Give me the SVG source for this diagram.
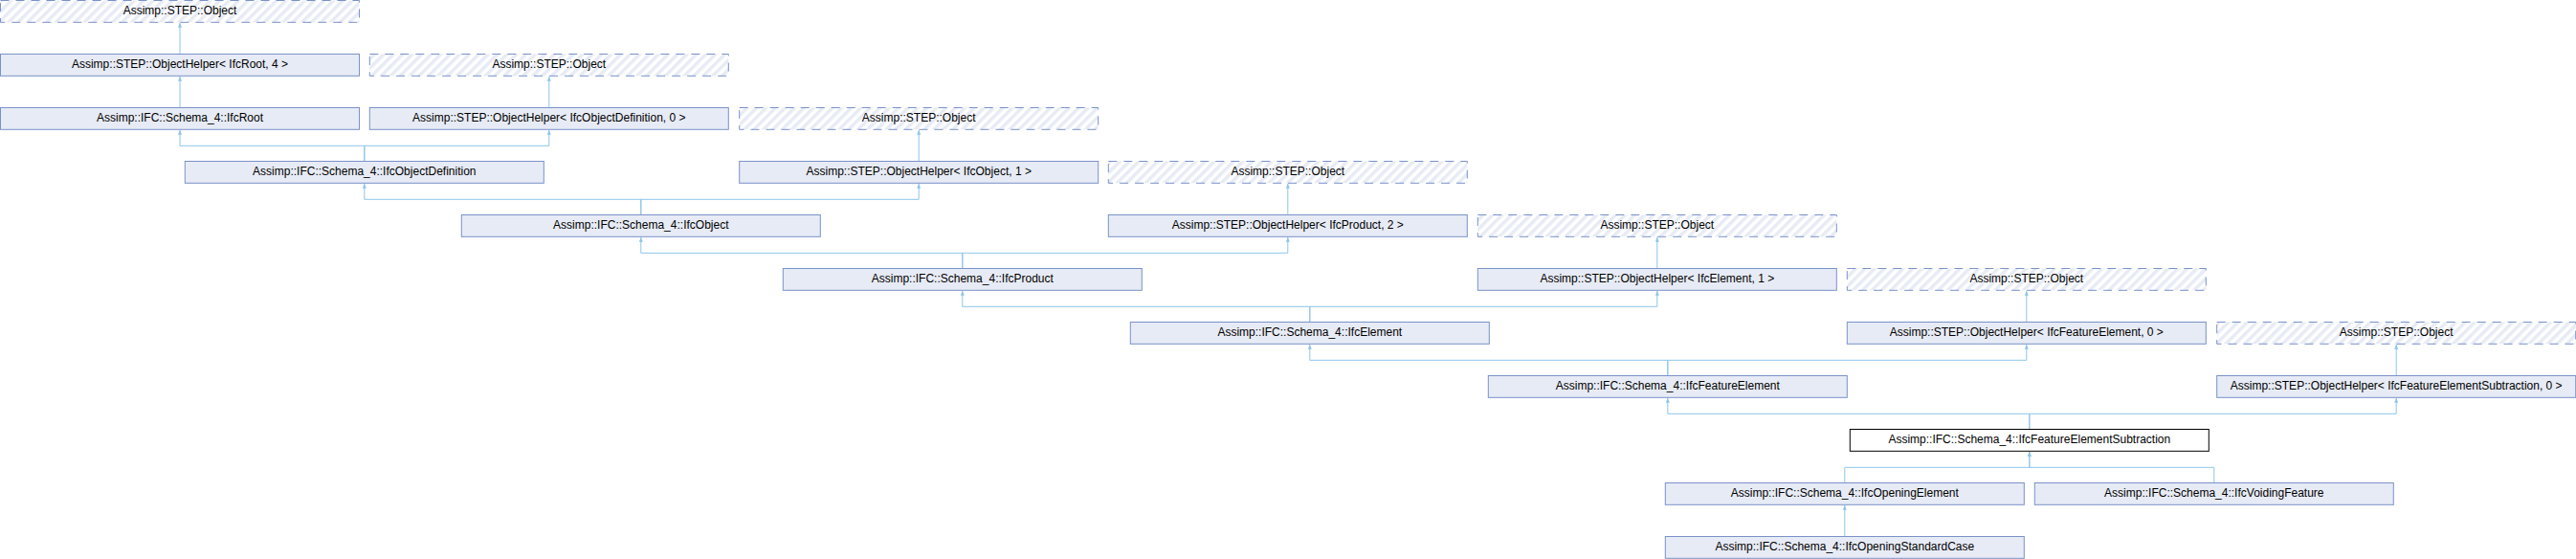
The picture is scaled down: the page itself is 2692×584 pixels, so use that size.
<svg xmlns="http://www.w3.org/2000/svg" width="2692" height="584" viewBox="0 0 2692 584" xml:space="preserve">
<style>
.n{fill:#E7EBF5;stroke:#7A92C9;stroke-width:1}
.d{fill:url(#hatch);stroke:#7A92C9;stroke-width:1;stroke-dasharray:9,7}
.c{fill:#FFFFFF;stroke:#000000;stroke-width:1}
text{font-family:"Liberation Sans",Arial,Helvetica,sans-serif;font-size:12px;fill:#000000;text-anchor:middle}
.e{fill:none;stroke:#8EC5E8;stroke-width:1;marker-end:url(#arr)}
</style>
<defs>
<pattern id="hatch" patternUnits="userSpaceOnUse" width="7" height="7" patternTransform="rotate(45)"><rect width="7" height="7" fill="#FFFFFF"/><rect width="3.5" height="7" fill="#E7EBF5"/></pattern>
<marker id="arr" viewBox="0 0 10 10" refX="10" refY="5" markerUnits="userSpaceOnUse" markerWidth="5" markerHeight="5" orient="auto"><path d="M0,1 L10,5 L0,9 Z" fill="#8EC5E8"/></marker>
</defs>
<rect width="2692" height="584" fill="#FFFFFF"/>
<g id="edges">
<path class="e" d="M188 56.5V23.8"/>
<path class="e" d="M188 112.5V79.8"/>
<path class="e" d="M573.8 112.5V79.8"/>
<path class="e" d="M380.8 168.5V152.3H188V135.8"/>
<path class="e" d="M380.8 168.5V152.3H573.8V135.8"/>
<path class="e" d="M960.2 168.5V135.8"/>
<path class="e" d="M669.8 224.5V208.3H380.8V191.8"/>
<path class="e" d="M669.8 224.5V208.3H960.2V191.8"/>
<path class="e" d="M1345.8 224.5V191.8"/>
<path class="e" d="M1005.8 280.5V264.3H669.8V247.8"/>
<path class="e" d="M1005.8 280.5V264.3H1345.8V247.8"/>
<path class="e" d="M1731.8 280.5V247.8"/>
<path class="e" d="M1368.8 336.5V320.3H1005.8V303.8"/>
<path class="e" d="M1368.8 336.5V320.3H1731.8V303.8"/>
<path class="e" d="M2117.8 336.5V303.8"/>
<path class="e" d="M1742.8 392.5V376.3H1368.8V359.8"/>
<path class="e" d="M1742.8 392.5V376.3H2117.8V359.8"/>
<path class="e" d="M2504.2 392.5V359.8"/>
<path class="e" d="M2120.8 448.5V432.3H1742.8V415.8"/>
<path class="e" d="M2120.8 448.5V432.3H2504.2V415.8"/>
<path class="e" d="M1927.8 504.5V488.3H2120.8V471.8"/>
<path class="e" d="M2313.8 504.5V488.3H2120.8V471.8"/>
<path class="e" d="M1927.8 560.5V527.8"/>
</g>
<g id="obj0"><rect class="d" x="0.5" y="0.5" width="375" height="22.8"/><text x="188" y="15.3">Assimp::STEP::Object</text></g>
<g id="ohRoot"><rect class="n" x="0.5" y="56.5" width="375" height="22.8"/><text x="188" y="71.3">Assimp::STEP::ObjectHelper&lt;  IfcRoot,  4  &gt;</text></g>
<g id="obj1"><rect class="d" x="386.3" y="56.5" width="375" height="22.8"/><text x="573.8" y="71.3">Assimp::STEP::Object</text></g>
<g id="ifcRoot"><rect class="n" x="0.5" y="112.5" width="375" height="22.8"/><text x="188" y="127.3">Assimp::IFC::Schema_4::IfcRoot</text></g>
<g id="ohObjDef"><rect class="n" x="386.3" y="112.5" width="375" height="22.8"/><text x="573.8" y="127.3">Assimp::STEP::ObjectHelper&lt;  IfcObjectDefinition,  0  &gt;</text></g>
<g id="obj2"><rect class="d" x="772.7" y="112.5" width="375" height="22.8"/><text x="960.2" y="127.3">Assimp::STEP::Object</text></g>
<g id="ifcObjDef"><rect class="n" x="193.3" y="168.5" width="375" height="22.8"/><text x="380.8" y="183.3">Assimp::IFC::Schema_4::IfcObjectDefinition</text></g>
<g id="ohObject"><rect class="n" x="772.7" y="168.5" width="375" height="22.8"/><text x="960.2" y="183.3">Assimp::STEP::ObjectHelper&lt;  IfcObject,  1  &gt;</text></g>
<g id="obj3"><rect class="d" x="1158.3" y="168.5" width="375" height="22.8"/><text x="1345.8" y="183.3">Assimp::STEP::Object</text></g>
<g id="ifcObject"><rect class="n" x="482.3" y="224.5" width="375" height="22.8"/><text x="669.8" y="239.3">Assimp::IFC::Schema_4::IfcObject</text></g>
<g id="ohProduct"><rect class="n" x="1158.3" y="224.5" width="375" height="22.8"/><text x="1345.8" y="239.3">Assimp::STEP::ObjectHelper&lt;  IfcProduct,  2  &gt;</text></g>
<g id="obj4"><rect class="d" x="1544.3" y="224.5" width="375" height="22.8"/><text x="1731.8" y="239.3">Assimp::STEP::Object</text></g>
<g id="ifcProduct"><rect class="n" x="818.3" y="280.5" width="375" height="22.8"/><text x="1005.8" y="295.3">Assimp::IFC::Schema_4::IfcProduct</text></g>
<g id="ohElement"><rect class="n" x="1544.3" y="280.5" width="375" height="22.8"/><text x="1731.8" y="295.3">Assimp::STEP::ObjectHelper&lt;  IfcElement,  1  &gt;</text></g>
<g id="obj5"><rect class="d" x="1930.3" y="280.5" width="375" height="22.8"/><text x="2117.8" y="295.3">Assimp::STEP::Object</text></g>
<g id="ifcElement"><rect class="n" x="1181.3" y="336.5" width="375" height="22.8"/><text x="1368.8" y="351.3">Assimp::IFC::Schema_4::IfcElement</text></g>
<g id="ohFeatureElement"><rect class="n" x="1930.3" y="336.5" width="375" height="22.8"/><text x="2117.8" y="351.3">Assimp::STEP::ObjectHelper&lt;  IfcFeatureElement,  0  &gt;</text></g>
<g id="obj6"><rect class="d" x="2316.7" y="336.5" width="375" height="22.8"/><text x="2504.2" y="351.3">Assimp::STEP::Object</text></g>
<g id="ifcFeatureElement"><rect class="n" x="1555.3" y="392.5" width="375" height="22.8"/><text x="1742.8" y="407.3">Assimp::IFC::Schema_4::IfcFeatureElement</text></g>
<g id="ohFES"><rect class="n" x="2316.7" y="392.5" width="375" height="22.8"/><text x="2504.2" y="407.3">Assimp::STEP::ObjectHelper&lt;  IfcFeatureElementSubtraction,  0  &gt;</text></g>
<g id="ifcFES"><rect class="c" x="1933.3" y="448.5" width="375" height="22.8"/><text x="2120.8" y="463.3">Assimp::IFC::Schema_4::IfcFeatureElementSubtraction</text></g>
<g id="ifcOpening"><rect class="n" x="1740.3" y="504.5" width="375" height="22.8"/><text x="1927.8" y="519.3">Assimp::IFC::Schema_4::IfcOpeningElement</text></g>
<g id="ifcVoiding"><rect class="n" x="2126.3" y="504.5" width="375" height="22.8"/><text x="2313.8" y="519.3">Assimp::IFC::Schema_4::IfcVoidingFeature</text></g>
<g id="ifcOpeningStd"><rect class="n" x="1740.3" y="560.5" width="375" height="22.8"/><text x="1927.8" y="575.3">Assimp::IFC::Schema_4::IfcOpeningStandardCase</text></g>
</svg>
